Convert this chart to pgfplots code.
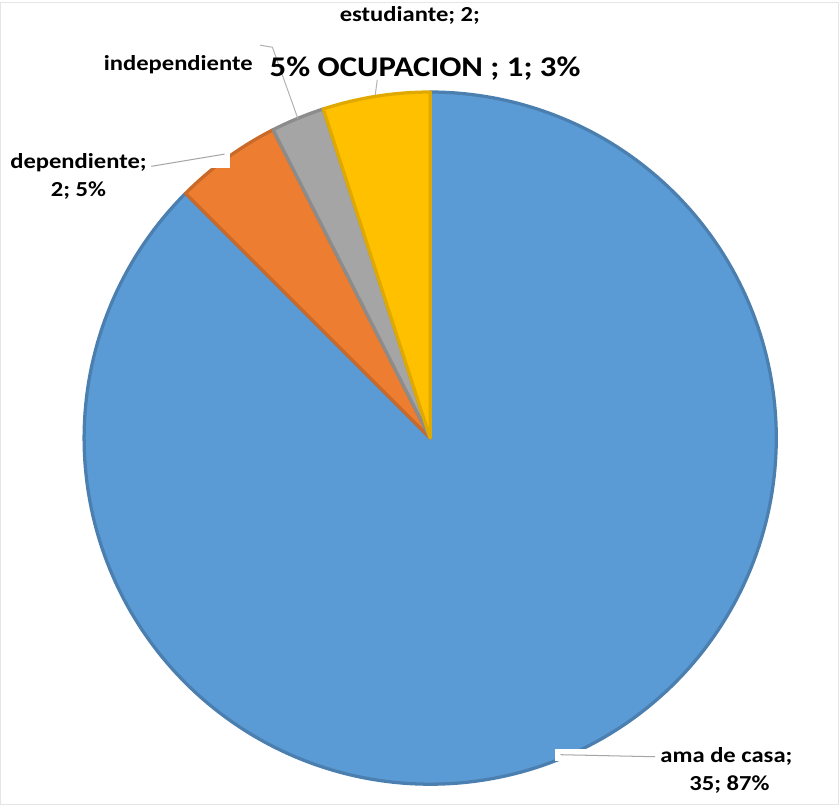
\documentclass[border=0pt]{standalone}
\usepackage{fontspec}
\setmainfont{Carlito}
\usepackage{graphicx}
\usepackage{pgfplots}
\usepackage{pgfplotstable}
\pgfplotsset{compat=1.18}
\definecolor{cblue}{HTML}{5B9BD5}
\definecolor{corange}{HTML}{ED7D31}
\definecolor{cgray}{HTML}{A5A5A5}
\definecolor{cgold}{HTML}{FFC000}

\pgfplotstableread{
cat val
ama 35
dep 2
ind 1
est 2
}\datatable
\pgfplotstablegetelem{0}{val}\of\datatable \edef\vA{\pgfplotsretval}
\pgfplotstablegetelem{1}{val}\of\datatable \edef\vB{\pgfplotsretval}
\pgfplotstablegetelem{2}{val}\of\datatable \edef\vC{\pgfplotsretval}
\pgfplotstablegetelem{3}{val}\of\datatable \edef\vD{\pgfplotsretval}
\pgfmathsetmacro\tot{\vA+\vB+\vC+\vD}
\pgfmathsetmacro\aA{90}
\pgfmathsetmacro\aB{\aA-360*\vA/\tot}
\pgfmathsetmacro\aC{\aB-360*\vB/\tot}
\pgfmathsetmacro\aD{\aC-360*\vC/\tot}
\pgfmathsetmacro\aE{\aD-360*\vD/\tot}
\newcommand\lbl[1]{\scalebox{1.15}[1]{\fontsize{10.5}{12}\selectfont\bfseries #1}}
\newcommand\ttl[1]{\scalebox{1.15}[1]{\fontsize{14}{16}\selectfont\bfseries #1}}

\begin{document}
\begin{tikzpicture}
\begin{axis}[
  scale only axis, width=419.5pt, height=402pt,
  xmin=0, xmax=839, ymin=0, ymax=804,
  hide axis, clip=false,
]
% frame
\addplot[draw=gray!20, line width=0.6pt] coordinates {(10,790) (833,790) (833,2) (10,2)} -- cycle;
% slices
\addplot[fill=cblue, draw=cblue!82!black, line width=1.6pt, line join=round, domain=\aB:\aA, samples=240, variable=\t]
  ({432+340*cos(\t)},{362+340*sin(\t)}) -- (432,362) -- cycle;
\addplot[fill=corange, draw=corange!85!black, line width=1.6pt, line join=round, domain=\aC:\aB, samples=30, variable=\t]
  ({432+340*cos(\t)},{362+340*sin(\t)}) -- (432,362) -- cycle;
\addplot[fill=cgray, draw=cgray!85!black, line width=1.6pt, line join=round, domain=\aD:\aC, samples=20, variable=\t]
  ({432+340*cos(\t)},{362+340*sin(\t)}) -- (432,362) -- cycle;
\addplot[fill=cgold, draw=cgold!88!black, line width=1.6pt, line join=round, domain=\aE:\aD, samples=30, variable=\t]
  ({432+340*cos(\t)},{362+340*sin(\t)}) -- (432,362) -- cycle;
% leader boxes and lines
\addplot[fill=white, draw=none] coordinates {(155,627) (235,627) (235,647) (155,647)} -- cycle;
\addplot[draw=gray!70, line width=0.5pt] coordinates {(158,629) (230,641)};
\addplot[fill=white, draw=none] coordinates {(555,45) (655,45) (655,57) (555,57)} -- cycle;
\addplot[draw=gray!70, line width=0.5pt] coordinates {(560,51) (653,49)};
\addplot[draw=gray!60, line width=0.5pt] coordinates {(265,748) (277,746) (302,676)};
\addplot[draw=gray!60, line width=0.5pt] coordinates {(380,714) (378,699)};
% labels
\node[anchor=base] at (axis cs:412,771) {\lbl{estudiante; 2;}};
\node[anchor=base] at (axis cs:184.5,723) {\lbl{independiente}};
\node[anchor=base] at (axis cs:427,717) {\ttl{5\% OCUPACION ; 1; 3\%}};
\node[anchor=base] at (axis cs:86.5,627) {\lbl{dependiente;}};
\node[anchor=base] at (axis cs:86.5,599) {\lbl{2; 5\%}};
\node[anchor=base] at (axis cs:723,43) {\lbl{ama de casa;}};
\node[anchor=base] at (axis cs:726,16) {\lbl{35; 87\%}};
\end{axis}
\end{tikzpicture}
\end{document}
